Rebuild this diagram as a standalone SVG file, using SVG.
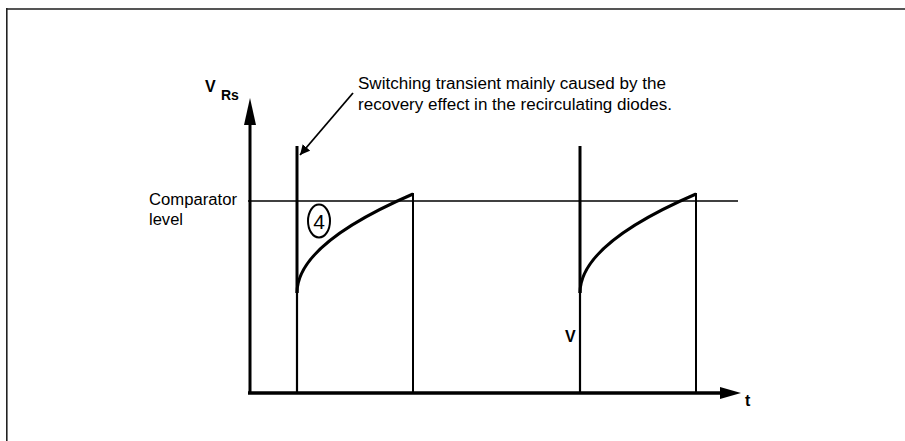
<svg xmlns="http://www.w3.org/2000/svg" width="905" height="441" viewBox="0 0 905 441">
<style>
.t{font-family:"Liberation Sans",Arial,sans-serif;fill:#000}
.b{font-weight:bold}
.ln{stroke:#000;fill:none}
</style>
<defs>
<marker id="ah" markerWidth="10" markerHeight="10" refX="10" refY="5" orient="auto" markerUnits="userSpaceOnUse" viewBox="0 0 10 10"><path d="M0,0 L10,5 L0,10 Z" fill="#000"/></marker>
</defs>
<rect width="905" height="441" fill="#fff"/>
<g id="frame">
<line x1="6" y1="9" x2="905" y2="9" stroke="#555" stroke-width="2"/>
<line x1="6.8" y1="8" x2="6.8" y2="441" stroke="#222" stroke-width="1.6"/>
</g>
<g id="axes">
<line class="ln" x1="250" y1="394" x2="250" y2="120" stroke-width="3"/>
<polygon points="250,98 244,125 256,125" fill="#000"/>
<line class="ln" x1="248" y1="393" x2="722" y2="393" stroke-width="3.5"/>
<polygon points="741,393 720,387 720,399" fill="#000"/>
<text class="t b" x="205" y="92" font-size="16">V</text>
<text class="t b" x="221" y="100" font-size="14">Rs</text>
<text class="t b" x="745" y="406" font-size="16">t</text>
</g>
<g id="comparator">
<line class="ln" x1="248" y1="201" x2="738" y2="201" stroke-width="1.5"/>
<text class="t" x="149" y="205" font-size="16" textLength="88" lengthAdjust="spacingAndGlyphs">Comparator</text>
<text class="t" x="149" y="225" font-size="16" textLength="34" lengthAdjust="spacingAndGlyphs">level</text>
</g>
<g id="pulse1">
<line class="ln" x1="297" y1="146" x2="297" y2="293" stroke-width="3"/>
<line class="ln" x1="297" y1="293" x2="297" y2="393" stroke-width="2.2"/>
<path class="ln" d="M297,293 Q297,244 413,194" stroke-width="3"/>
<line class="ln" x1="413" y1="193" x2="413" y2="393" stroke-width="2"/>
<ellipse cx="319" cy="221" rx="11" ry="16.5" fill="none" stroke="#000" stroke-width="2"/>
<text class="t" x="319" y="229" font-size="21" text-anchor="middle">4</text>
</g>
<g id="pulse2">
<line class="ln" x1="580" y1="146" x2="580" y2="293" stroke-width="3"/>
<line class="ln" x1="580" y1="293" x2="580" y2="393" stroke-width="2.2"/>
<path class="ln" d="M580,293 Q580,244 696,194" stroke-width="3"/>
<line class="ln" x1="696" y1="193" x2="696" y2="393" stroke-width="2"/>
<text class="t b" x="565" y="342" font-size="16">V</text>
</g>
<g id="annotation">
<line class="ln" x1="353" y1="93" x2="300" y2="155" stroke-width="1.8" marker-end="url(#ah)"/>
<text class="t" x="358" y="89" font-size="16" textLength="308" lengthAdjust="spacingAndGlyphs">Switching transient mainly caused by the</text>
<text class="t" x="358" y="110" font-size="16" textLength="314" lengthAdjust="spacingAndGlyphs">recovery effect in the recirculating diodes.</text>
</g>
</svg>
